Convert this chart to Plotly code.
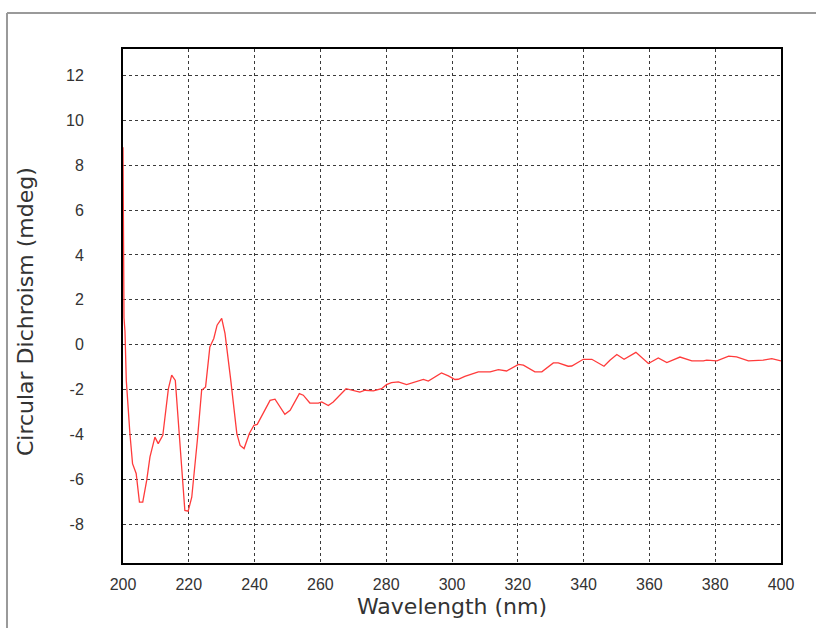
import plotly.graph_objects as go

# CD spectrum: wavelength (nm) and ellipticity (mdeg)
wavelength = [
    200.0, 200.15, 200.3, 200.6, 201.0, 202.1, 202.9, 204.0, 205.0, 206.0,
    207.2, 208.2, 209.7, 210.7, 212.1, 213.8, 214.8, 215.9, 217.3, 218.8,
    219.8, 220.9, 222.6, 223.9, 225.1, 226.4, 227.6, 228.6, 230.0, 231.0,
    232.7, 234.6, 235.6, 236.8, 238.4, 239.8, 240.8, 242.6, 244.7, 246.2,
    249.2, 250.8, 253.6, 254.8, 256.8, 259.4, 260.4, 262.4, 263.9, 267.8,
    270.0, 272.0, 273.6, 276.1, 278.6, 280.1, 281.6, 283.7, 286.2, 288.8,
    291.3, 292.8, 294.8, 296.8, 298.9, 300.9, 301.9, 303.9, 308.0, 311.6,
    314.1, 316.6, 320.2, 321.7, 325.2, 327.3, 330.8, 332.3, 335.3, 336.4,
    339.9, 342.5, 346.2, 348.0, 350.1, 352.3, 355.9, 359.7, 362.7, 365.3,
    369.3, 372.9, 376.4, 377.4, 380.5, 384.1, 386.5, 390.1, 394.6, 397.2,
    400.0,
]
cd_mdeg = [
    8.8, 4.8, 1.2, 0.6, -1.59, -3.96, -5.30, -5.74, -7.02, -7.02,
    -6.05, -5.0, -4.12, -4.41, -4.04, -1.96, -1.36, -1.59, -4.26, -7.39,
    -7.42, -6.8, -4.26, -2.03, -1.88, -0.10, 0.28, 0.87, 1.17, 0.5,
    -1.51, -3.96, -4.49, -4.63, -3.96, -3.59, -3.55, -3.07, -2.48, -2.43,
    -3.10, -2.92, -2.18, -2.25, -2.6, -2.6, -2.55, -2.71, -2.55, -1.96,
    -2.03, -2.11, -2.03, -2.06, -1.96, -1.78, -1.69, -1.66, -1.78, -1.66,
    -1.55, -1.62, -1.44, -1.26, -1.39, -1.55, -1.54, -1.41, -1.21, -1.21,
    -1.11, -1.17, -0.88, -0.91, -1.21, -1.21, -0.81, -0.81, -0.96, -0.95,
    -0.65, -0.65, -0.96, -0.69, -0.44, -0.65, -0.34, -0.84, -0.59, -0.80,
    -0.55, -0.72, -0.72, -0.69, -0.72, -0.51, -0.54, -0.72, -0.69, -0.62,
    -0.72,
]

x_ticks = list(range(200, 401, 20))
y_ticks = list(range(-8, 13, 2))

fig = go.Figure()
fig.add_trace(go.Scatter(
    x=wavelength, y=cd_mdeg, mode="lines",
    line=dict(color="#ff3b3b", width=1.3),
    showlegend=False, hoverinfo="skip",
))

axis_common = dict(
    showline=True, mirror=True, linecolor="black", linewidth=2,
    showgrid=True, gridcolor="#3a3a3a", gridwidth=1, griddash="3px,3px",
    zeroline=False, ticks="",
    tickfont=dict(family="Liberation Sans", size=16, color="#333"),
)

fig.update_xaxes(range=[200, 400], tickvals=x_ticks, ticktext=[str(v) for v in x_ticks],
                 ticklabelstandoff=6, **axis_common)
fig.update_yaxes(range=[-9.73, 13.18], tickvals=y_ticks, ticktext=[str(v) for v in y_ticks],
                 ticklabelstandoff=34, **axis_common)

title_font = dict(family="DejaVu Sans", size=22, color="#333")
annotations = [
    dict(text="Wavelength (nm)", xref="paper", yref="paper", x=0.5, y=-0.0856,
         xanchor="center", yanchor="middle", showarrow=False, font=title_font),
    dict(text="Circular Dichroism (mdeg)", xref="paper", yref="paper", x=-0.149, y=0.49,
         xanchor="center", yanchor="middle", textangle=-90, showarrow=False, font=title_font),
]

# outer grey frame (top and left edges)
frame = dict(type="line", xref="paper", yref="paper", line=dict(color="#9a9a9a", width=2))
shapes = [
    dict(frame, x0=-0.1763, y0=1.070, x1=1.06, y1=1.070),
    dict(frame, x0=-0.1763, y0=1.070, x1=-0.1763, y1=-0.14),
]

fig.update_layout(
    width=816, height=628,
    margin=dict(l=123, r=35, t=49, b=65),
    paper_bgcolor="white", plot_bgcolor="white",
    annotations=annotations, shapes=shapes,
)

fig.write_html("out.html")
